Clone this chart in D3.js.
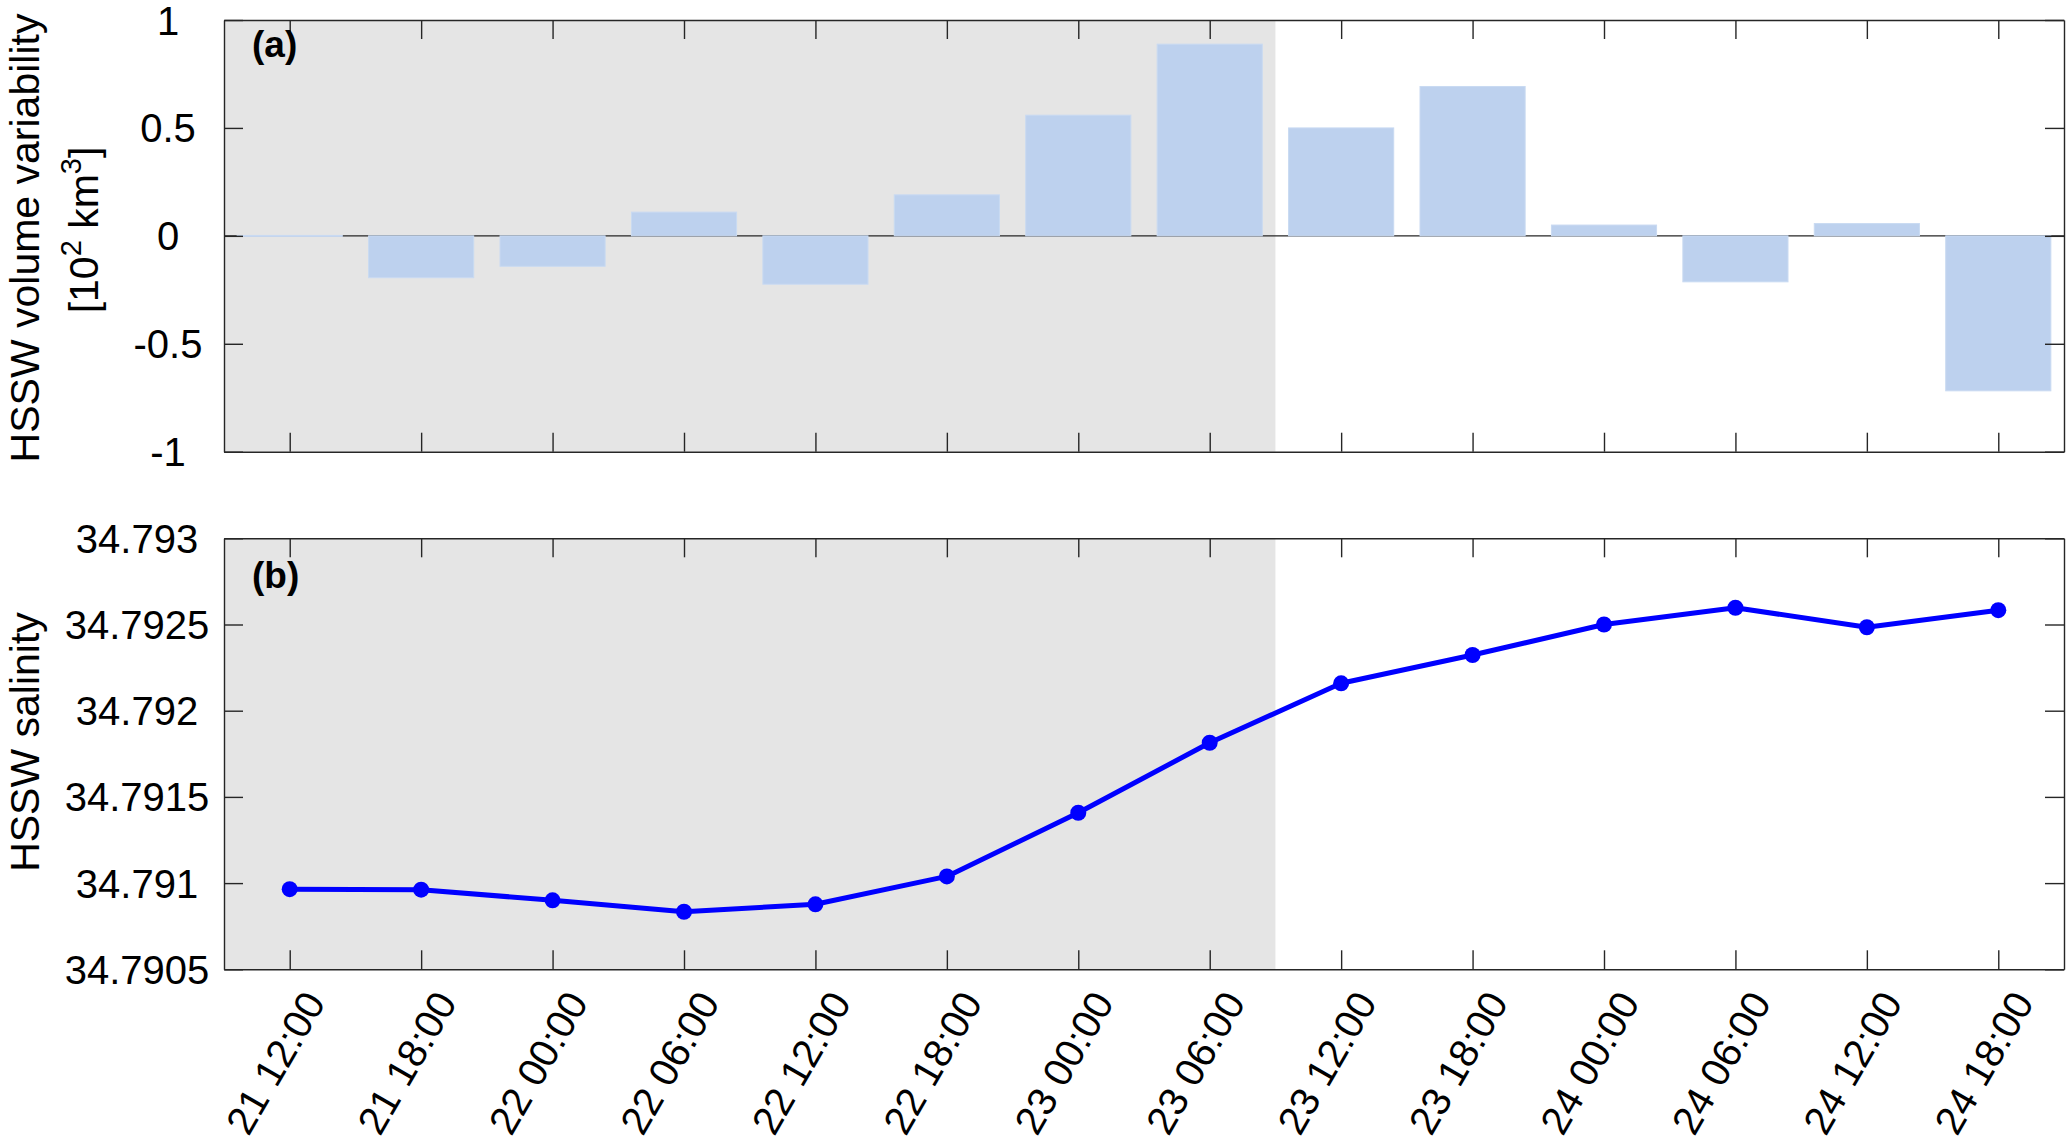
<!DOCTYPE html>
<html>
<head>
<meta charset="utf-8">
<script src="https://cdn.jsdelivr.net/npm/d3@7"></script>
<style>
  html, body { margin: 0; padding: 0; background: #fff; }
  svg { display: block; font-family: "Liberation Sans", Arial, Helvetica, sans-serif; }
</style>
</head>
<body>
<script>
// ---------------- data ----------------
const timeLabels = ["21 12:00", "21 18:00", "22 00:00", "22 06:00", "22 12:00", "22 18:00", "23 00:00",
                    "23 06:00", "23 12:00", "23 18:00", "24 00:00", "24 06:00", "24 12:00", "24 18:00"];
const volumeVariability = [0.002, -0.194, -0.141, 0.110, -0.224, 0.190, 0.559,
                           0.888, 0.500, 0.692, 0.050, -0.213, 0.057, -0.718];
const salinity = [34.790965, 34.790962, 34.790900, 34.790834, 34.790877, 34.791039, 34.791408,
                  34.791814, 34.792159, 34.792323, 34.792500, 34.792597, 34.792484, 34.792583];
const volumeTicks = [-1, -0.5, 0, 0.5, 1];
const volumeTickLabels = ["-1", "-0.5", "0", "0.5", "1"];
const salinityTicks = [34.7905, 34.791, 34.7915, 34.792, 34.7925, 34.793];
const salinityTickLabels = ["34.7905", "34.791", "34.7915", "34.792", "34.7925", "34.793"];
const shadeEndIndex = 7.5;   // shaded period ends between 23 06:00 and 23 12:00

// ---------------- layout ----------------
const W = 2067, H = 1143;
const L = 224, R = 2064;
const pa = { top: 20, bottom: 451.7 };
const pb = { top: 538.3, bottom: 969.3 };
const axisColor = "#262626";
const tickLen = 19;
const tickFont = 40;
const labelFont = 41;

const svg = d3.select("body").append("svg").attr("width", W).attr("height", H);

const idx = d3.range(timeLabels.length);
const x = d3.scaleLinear().domain([-0.5, timeLabels.length - 0.5]).range([L, R]);
const step = x(1) - x(0);

function frame(g, top, bottom) {
  g.append("rect")
    .attr("x", x(-0.5)).attr("y", top)
    .attr("width", x(shadeEndIndex) - x(-0.5)).attr("height", bottom - top)
    .attr("fill", "#e5e5e5");
}

function axes(g, y, top, bottom, yTicks, yLabels, labelCenterX, showX) {
  const left = g.append("g").attr("transform", `translate(${L},0)`)
    .call(d3.axisLeft(y).tickValues(yTicks).tickSizeInner(-tickLen).tickSizeOuter(0)
      .tickFormat((d, i) => yLabels[i]));
  left.selectAll(".tick text")
    .attr("x", labelCenterX - L).attr("text-anchor", "middle").attr("dy", "0.35em")
    .attr("font-size", tickFont).attr("fill", "#000");
  const right = g.append("g").attr("transform", `translate(${R},0)`)
    .call(d3.axisRight(y).tickValues(yTicks).tickSizeInner(-tickLen).tickSizeOuter(0).tickFormat(""));
  const topAx = g.append("g").attr("transform", `translate(0,${top})`)
    .call(d3.axisTop(x).tickValues(idx).tickSizeInner(-tickLen).tickSizeOuter(0).tickFormat(""));
  const bottomAx = g.append("g").attr("transform", `translate(0,${bottom})`)
    .call(d3.axisBottom(x).tickValues(idx).tickSizeInner(-tickLen).tickSizeOuter(0)
      .tickFormat((d) => showX ? timeLabels[d] : ""));
  if (showX) {
    bottomAx.selectAll(".tick text")
      .attr("y", null).attr("dy", null)
      .attr("text-anchor", "end")
      .attr("dominant-baseline", "central")
      .attr("transform", "translate(24,26) rotate(-60)")
      .attr("font-size", tickFont).attr("fill", "#000");
  }
  [left, right, topAx, bottomAx].forEach(a => {
    a.selectAll("path.domain").attr("stroke", axisColor).attr("stroke-width", 1.4);
    a.selectAll(".tick line").attr("stroke", axisColor).attr("stroke-width", 1.4);
    a.attr("font-family", null);
  });
}

// ---------------- panel (a) ----------------
const ya = d3.scaleLinear().domain([-1, 1]).range([pa.bottom, pa.top]);
const ga = svg.append("g");
frame(ga, pa.top, pa.bottom);
// bar baseline
ga.append("line").attr("x1", L).attr("x2", R).attr("y1", ya(0)).attr("y2", ya(0))
  .attr("stroke", axisColor).attr("stroke-width", 1.4);
ga.selectAll("rect.bar").data(volumeVariability).join("rect").attr("class", "bar")
  .attr("x", (d, i) => x(i) - 0.4 * step)
  .attr("width", 0.8 * step)
  .attr("y", d => ya(Math.max(0, d)))
  .attr("height", d => Math.max(1, Math.abs(ya(d) - ya(0))))
  .attr("fill", "#bdd1ee")
  .attr("stroke", "#c9daf2").attr("stroke-width", 1);
axes(ga, ya, pa.top, pa.bottom, volumeTicks, volumeTickLabels, 168, false);
ga.append("text").attr("x", 252).attr("y", 57).attr("font-size", 37).attr("font-weight", "bold")
  .text("(a)");

// y label (two lines)
ga.append("text").attr("transform", `translate(39,238) rotate(-90)`)
  .attr("text-anchor", "middle").attr("font-size", labelFont).attr("fill", "#000")
  .text("HSSW volume variability");
const yla2 = ga.append("text").attr("transform", `translate(98,230) rotate(-90)`)
  .attr("text-anchor", "middle").attr("font-size", labelFont).attr("fill", "#000");
yla2.append("tspan").text("[10");
yla2.append("tspan").attr("font-size", 29).attr("dy", -17).text("2");
yla2.append("tspan").attr("dy", 17).text(" km");
yla2.append("tspan").attr("font-size", 29).attr("dy", -17).text("3");
yla2.append("tspan").attr("dy", 17).text("]");

// ---------------- panel (b) ----------------
const yb = d3.scaleLinear().domain([34.7905, 34.793]).range([pb.bottom, pb.top]);
const gb = svg.append("g");
frame(gb, pb.top, pb.bottom);
const line = d3.line().x((d, i) => x(i)).y(d => yb(d));
gb.append("path").datum(salinity).attr("d", line)
  .attr("fill", "none").attr("stroke", "#0000ff").attr("stroke-width", 5)
  .attr("stroke-linejoin", "round");
gb.selectAll("circle.pt").data(salinity).join("circle").attr("class", "pt")
  .attr("cx", (d, i) => x(i)).attr("cy", d => yb(d)).attr("r", 8)
  .attr("fill", "#0000ff");
axes(gb, yb, pb.top, pb.bottom, salinityTicks, salinityTickLabels, 137, true);
gb.append("text").attr("x", 252).attr("y", 588).attr("font-size", 37).attr("font-weight", "bold")
  .text("(b)");
gb.append("text").attr("transform", `translate(39,742) rotate(-90)`)
  .attr("text-anchor", "middle").attr("font-size", labelFont).attr("fill", "#000")
  .text("HSSW salinity");
</script>
</body>
</html>
